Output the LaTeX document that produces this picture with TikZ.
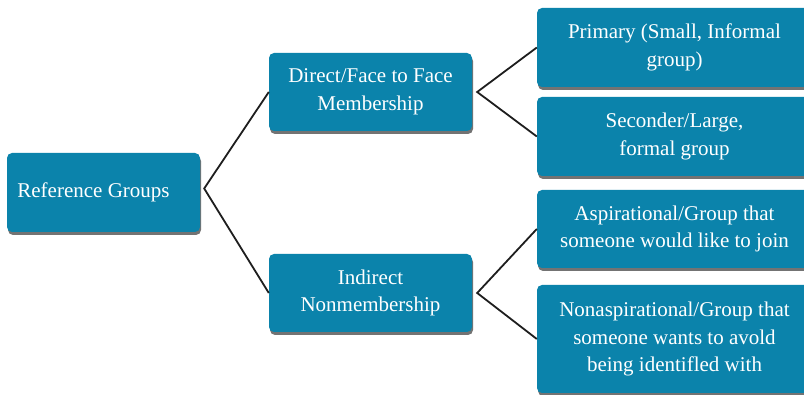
\documentclass[tikz,border=0pt]{standalone}
\usepackage{fontspec}
\setmainfont{Liberation Serif}
\usetikzlibrary{shadows,calc}
\definecolor{boxblue}{HTML}{0B83AB}
\definecolor{linecol}{HTML}{1E1E1E}
\tikzset{
  gbox/.style={rectangle, rounded corners=5pt, fill=boxblue, text=white,
    align=center, inner sep=2pt,
    font=\fontsize{21}{27.5}\selectfont,
    drop shadow={shadow xshift=1pt, shadow yshift=-3pt, opacity=0.55, fill=black}},
  link/.style={draw=linecol, line width=1.8pt, line join=miter}
}
\begin{document}
\begin{tikzpicture}[x=1pt,y=1pt]
\useasboundingbox (0,0) rectangle (804,395);
\node[gbox, minimum width=193pt, minimum height=79pt] (ref) at (103.5,202.5) {Reference Groups\hspace*{20pt}};
\node[gbox, minimum width=203pt, minimum height=78pt] (direct) at (370.5,303) {Direct/Face to Face\\Membership};
\node[gbox, minimum width=203pt, minimum height=78pt] (indirect) at (370.5,102) {Indirect\\Nonmembership};
\node[gbox, minimum width=275pt, minimum height=79pt] (primary) at (674.5,347.5) {Primary (Small, Informal\\group)};
\node[gbox, minimum width=275pt, minimum height=79pt] (second) at (674.5,258.5) {Seconder/Large,\\formal group};
\node[gbox, minimum width=275pt, minimum height=78pt] (asp) at (674.5,166) {Aspirational/Group that\\someone would like to join};
\node[gbox, minimum width=275pt, minimum height=108pt] (nonasp) at (674.5,56) {Nonaspirational/Group that\\someone wants to avold\\being identifled with};
\coordinate (rv) at ($(ref.east)+(4pt,4pt)$);
\coordinate (dv) at ($(direct.east)+(5pt,0)$);
\coordinate (iv) at ($(indirect.east)+(5pt,0)$);
\draw[link] (direct.west) -- (rv) -- (indirect.west);
\draw[link] (primary.west) -- (dv) -- (second.west);
\draw[link] (asp.west) -- (iv) -- (nonasp.west);
\end{tikzpicture}
\end{document}
